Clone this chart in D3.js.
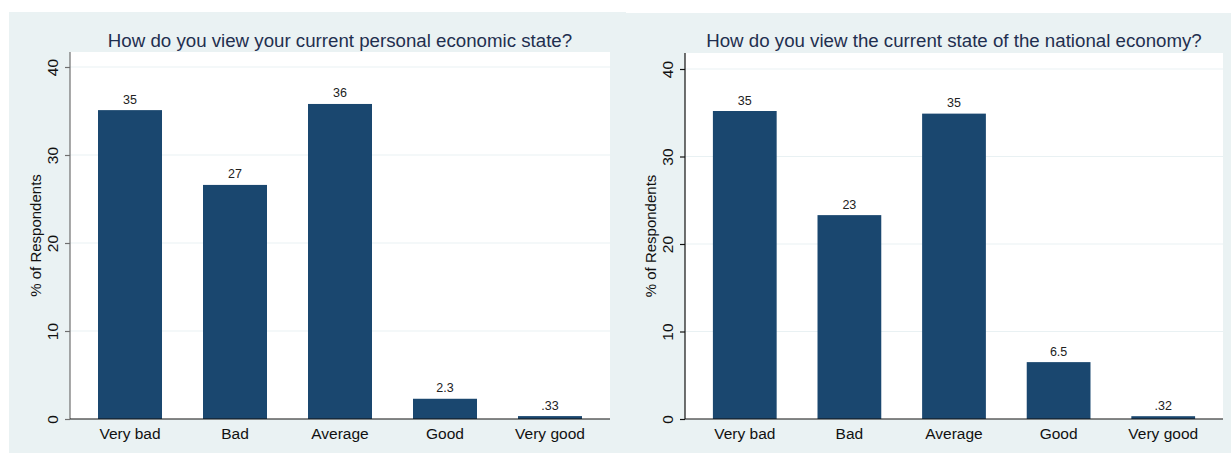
<!DOCTYPE html>
<html>
<head>
<meta charset="utf-8">
<script src="https://cdn.jsdelivr.net/npm/d3@7"></script>
<style>
  html, body { margin: 0; padding: 0; background: #ffffff; }
  svg { display: block; }
  text { font-family: "Liberation Sans", Arial, Helvetica, sans-serif; }
</style>
</head>
<body>
<svg id="chart" width="1231" height="454"></svg>
<script>
// ---- data ----
const categories = ["Very bad", "Bad", "Average", "Good", "Very good"];
const personalValues = [35.1, 26.6, 35.8, 2.3, 0.33];
const personalLabels = ["35", "27", "36", "2.3", ".33"];
const nationalValues = [35.2, 23.3, 34.9, 6.5, 0.32];
const nationalLabels = ["35", "23", "35", "6.5", ".32"];
const yTicks = [0, 10, 20, 30, 40];
const titles = [
  "How do you view your current personal economic state?",
  "How do you view the current state of the national economy?"
];
const yAxisTitle = "% of Respondents";

// ---- layout ----
const svg = d3.select("#chart");
const panels = [
  { bg: [9, 12, 626, 453], plot: [70, 52, 610, 419], y40: 67, axisColor: "#6f6f6f",
    values: personalValues, labels: personalLabels, title: titles[0] },
  { bg: [626, 13, 1231, 453], plot: [685, 53, 1223, 419], y40: 69, axisColor: "#111111",
    values: nationalValues, labels: nationalLabels, title: titles[1] }
];

const barColor = "#1a476f";
const bgColor = "#eaf2f3";
const gridColor = "#e9f1f3";

panels.forEach(p => {
  const g = svg.append("g");
  const [bx0, by0, bx1, by1] = p.bg;
  const [px0, py0, px1, py1] = p.plot;

  g.append("rect").attr("x", bx0).attr("y", by0)
    .attr("width", bx1 - bx0).attr("height", by1 - by0).attr("fill", bgColor);
  g.append("rect").attr("x", px0).attr("y", py0)
    .attr("width", px1 - px0).attr("height", py1 - py0).attr("fill", "#ffffff");

  const x = d3.scaleBand().domain(categories).range([px0, px1])
    .paddingInner(41 / 105).paddingOuter(0.2667);
  const y = d3.scaleLinear().domain([0, 40]).range([py1, p.y40]);

  // gridlines
  g.append("g").selectAll("line").data(yTicks.filter(t => t > 0)).join("line")
    .attr("x1", px0).attr("x2", px1)
    .attr("y1", d => y(d)).attr("y2", d => y(d))
    .attr("stroke", gridColor).attr("stroke-width", 1.2);

  // bars
  const data = categories.map((c, i) => ({ c, v: p.values[i], l: p.labels[i] }));
  g.append("g").selectAll("rect").data(data).join("rect")
    .attr("x", d => x(d.c)).attr("width", x.bandwidth())
    .attr("y", d => y(d.v)).attr("height", d => y(0) - y(d.v))
    .attr("fill", barColor);

  // value labels
  g.append("g").selectAll("text").data(data).join("text")
    .attr("x", d => x(d.c) + x.bandwidth() / 2)
    .attr("y", d => y(d.v) - 6.5)
    .attr("text-anchor", "middle")
    .attr("font-size", 12.5).attr("fill", "#222")
    .text(d => d.l);

  // y axis
  const yAxis = d3.axisLeft(y).tickValues(yTicks).tickSize(5).tickFormat(d3.format("d"));
  const ya = g.append("g").attr("transform", `translate(${px0},0)`).call(yAxis);
  ya.select(".domain").attr("stroke", p.axisColor).attr("stroke-width", 1.2)
    .attr("d", `M0,${py1}V${py0}`);
  ya.selectAll(".tick line").attr("stroke", p.axisColor).attr("stroke-width", 1.2);
  ya.selectAll(".tick text")
    .attr("font-size", 15.5).attr("fill", "#111")
    .attr("x", null).attr("dy", null)
    .attr("transform", "translate(-12.5,0) rotate(-90)")
    .attr("text-anchor", "middle")
    .attr("y", 0);

  // x axis
  const xAxis = d3.axisBottom(x).tickSize(0).tickPadding(0);
  const xa = g.append("g").attr("transform", `translate(0,${py1})`).call(xAxis);
  xa.select(".domain").attr("stroke", "#111").attr("stroke-width", 1.2)
    .attr("d", `M${px0},0H${px1}`);
  xa.selectAll(".tick text").attr("font-size", 15.5).attr("fill", "#111")
    .attr("dy", null).attr("y", 20);

  // y axis title
  g.append("text")
    .attr("transform", `translate(${px0 - 29.5},${(py0 + py1) / 2}) rotate(-90)`)
    .attr("text-anchor", "middle").attr("font-size", 15).attr("fill", "#111")
    .text(yAxisTitle);

  // title
  g.append("text")
    .attr("x", (px0 + px1) / 2).attr("y", 46.5)
    .attr("text-anchor", "middle").attr("font-size", 18.7).attr("fill", "#1f2f4f")
    .text(p.title);
});
</script>
</body>
</html>
